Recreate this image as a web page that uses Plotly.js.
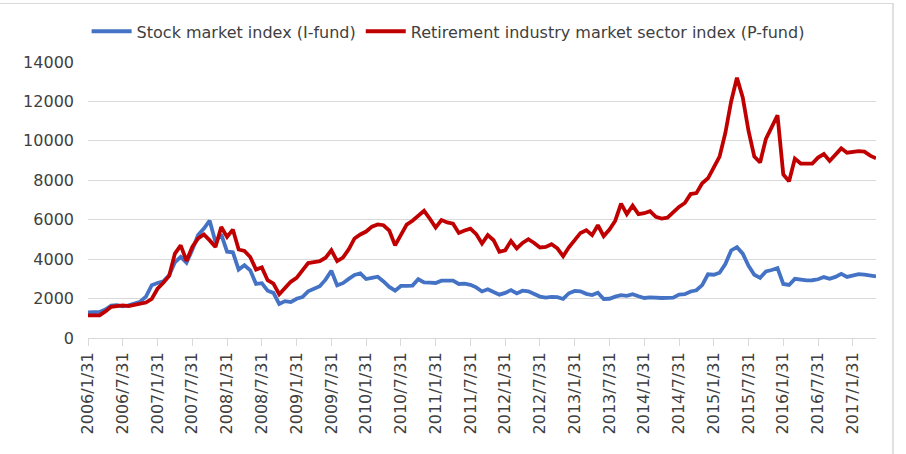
<!DOCTYPE html>
<html>
<head>
<meta charset="utf-8">
<script src="https://cdn.plot.ly/plotly-3.0.1.min.js"></script>
<style>
html,body{margin:0;padding:0;background:#fff;}
#wrap{position:relative;width:906px;height:454px;}
#chart{width:906px;height:454px;}
#frame{position:absolute;left:-2px;top:3px;width:894px;height:460px;border-top:1px solid #d9d9d9;border-right:2px solid #e0e0e0;pointer-events:none;}
</style>
</head>
<body>
<div id="wrap"><div id="chart"></div><div id="frame"></div></div>
<script>
// Monthly, month-end, 2006/1/31 .. 2017/5/31
const startYear = 2006, monthCount = 137;
const categories = [];
for (let i = 0; i < monthCount; i++) {
  const y = startYear + Math.floor(i / 12), m = i % 12;
  const d = new Date(y, m + 1, 0).getDate();
  categories.push(y + '/' + (m + 1) + '/' + d);
}

const seriesNames = ['Stock market index (I-fund)', 'Retirement industry market sector index (P-fund)'];

const stockIndex = [
  1300,1300,1320,1440,1640,1670,1610,1660,1750,1840,2100,2680,
  2790,2880,3180,3840,4110,3820,4470,5220,5550,5950,4870,5260,
  4380,4350,3470,3690,3430,2740,2780,2400,2290,1730,1870,1820,
  1990,2080,2370,2480,2630,2960,3410,2670,2780,3000,3200,3280,
  2990,3050,3110,2870,2590,2400,2640,2640,2660,2980,2820,2810,
  2790,2910,2930,2910,2740,2760,2700,2570,2360,2470,2330,2200,
  2290,2430,2260,2400,2370,2230,2100,2050,2090,2070,1980,2270,
  2390,2370,2240,2180,2300,1980,1990,2100,2170,2140,2220,2120,
  2030,2060,2030,2030,2040,2050,2200,2220,2360,2420,2680,3230,
  3210,3310,3750,4440,4610,4280,3660,3210,3050,3380,3450,3540,
  2740,2690,3000,2940,2920,2930,2980,3090,3000,3100,3250,3100,
  3160,3240,3220,3150,3120
];

const retirementIndex = [
  1150,1150,1150,1350,1580,1620,1650,1620,1680,1700,1800,1980,
  2500,2800,3150,4280,4700,3910,4620,5050,5250,4950,4620,5630,
  5130,5500,4490,4420,4110,3470,3580,2930,2760,2220,2550,2850,
  3050,3400,3800,3850,3900,4070,4450,3900,4080,4500,5050,5250,
  5400,5650,5760,5720,5450,4700,5200,5750,5950,6200,6450,6050,
  5600,5980,5860,5800,5330,5450,5550,5270,4790,5220,4960,4370,
  4450,4920,4540,4820,5010,4820,4590,4620,4760,4550,4150,4600,
  5000,5330,5470,5220,5720,5170,5500,5950,6820,6280,6710,6280,
  6330,6430,6150,6060,6100,6400,6650,6850,7300,7350,7850,8100,
  8650,9200,10400,12000,13200,12200,10500,9200,8900,10100,10700,11300,
  8300,7950,9100,8850,8850,8850,9150,9330,8980,9300,9620,9400,
  9450,9480,9450,9250,9120
];

const tickLabels = [
  '2006/1/31','2006/7/31','2007/1/31','2007/7/31','2008/1/31','2008/7/31',
  '2009/1/31','2009/7/31','2010/1/31','2010/7/31','2011/1/31','2011/7/31',
  '2012/1/31','2012/7/31','2013/1/31','2013/7/31','2014/1/31','2014/7/31',
  '2015/1/31','2015/7/31','2016/1/31','2016/7/31','2017/1/31'
];

const font = 'DejaVu Sans';
const textColor = '#404040';

const traces = [
  {x: categories, y: stockIndex, name: seriesNames[0], type: 'scatter', mode: 'lines',
   line: {color: '#4472C4', width: 3.8}},
  {x: categories, y: retirementIndex, name: seriesNames[1], type: 'scatter', mode: 'lines',
   line: {color: '#C00000', width: 3.8}}
];

const layout = {
  width: 906, height: 454,
  margin: {l: 88, r: 30, t: 62, b: 116},
  paper_bgcolor: '#fff', plot_bgcolor: '#fff',
  font: {family: font, size: 16, color: textColor},
  showlegend: true,
  legend: {orientation: 'h', x: 0.457, xanchor: 'center', y: 1.111, yanchor: 'middle',
           font: {family: font, size: 16, color: textColor}, itemwidth: 40, tracegroupgap: 0},
  xaxis: {type: 'category', range: [0, monthCount - 1],
          tickmode: 'array', tickvals: tickLabels, ticktext: tickLabels,
          tickangle: -90, ticks: 'outside', ticklen: 7, tickcolor: '#d9d9d9',
          showline: true, linecolor: '#d9d9d9', linewidth: 1, showgrid: false, zeroline: false,
          tickfont: {family: font, size: 16, color: textColor}},
  yaxis: {range: [0, 14000], tickmode: 'linear', tick0: 0, dtick: 2000, tickformat: 'd',
          showgrid: true, gridcolor: '#d9d9d9', gridwidth: 1, zeroline: false, showline: false,
          ticks: '', ticklabelstandoff: 13,
          tickfont: {family: font, size: 16, color: textColor}}
};

Plotly.newPlot('chart', traces, layout, {displayModeBar: false, staticPlot: true});
</script>
</body>
</html>
